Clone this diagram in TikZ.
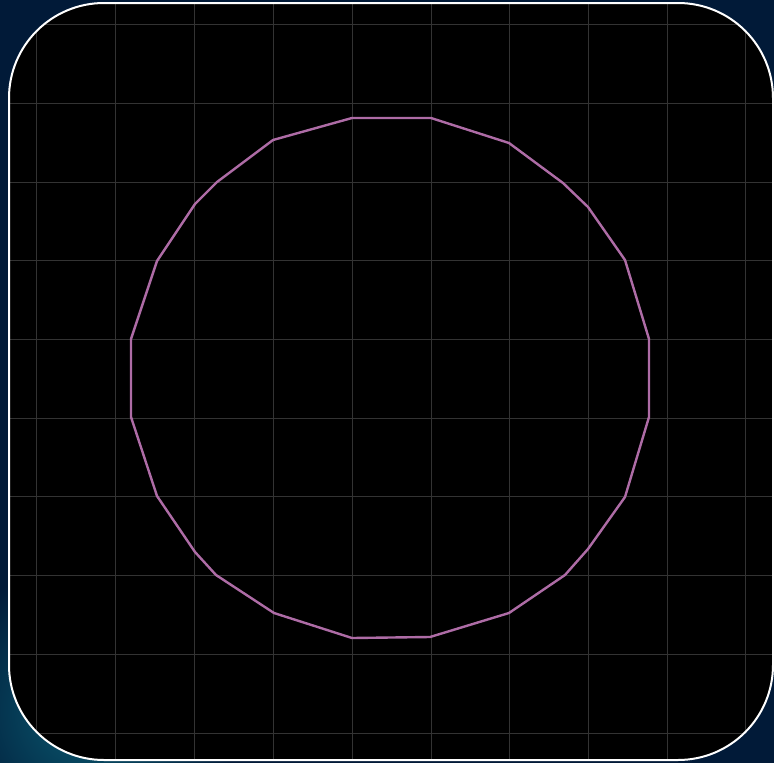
\documentclass[tikz,border=0pt]{standalone}
\usetikzlibrary{fadings}
\definecolor{navy}{HTML}{011A38}
\definecolor{tealc}{HTML}{0A5C72}
\definecolor{gridc}{HTML}{333333}
\definecolor{polyc}{HTML}{AE6CA6}
\begin{document}
\begin{tikzpicture}[x=1pt,y=-1pt,
  gridline/.style={draw=gridc,line width=0.9pt},
  frame/.style={draw=white,line width=2pt,rounded corners=95pt},
  poly/.style={draw=polyc,line width=2.4pt,line join=round}]
\useasboundingbox (0,0) rectangle (774,763);
\fill[navy] (0,0) rectangle (774,763);
\shade[inner color=tealc,outer color=navy] (-60,560) rectangle (240,860);
\fill[black,rounded corners=95pt] (9,3) rectangle (773,760);
\begin{scope}
  \clip[rounded corners=95pt] (9,3) rectangle (773,760);
  \foreach \x in {36,115,194,273,352,431,509,588,667,745}
    \draw[gridline] (\x,0) -- (\x,763);
  \foreach \y in {24,103,182,260,339,418,496,575,654,733}
    \draw[gridline] (0,\y) -- (774,\y);
\end{scope}
\draw[frame] (9,3) rectangle (773,760);
\draw[poly] (352,118) -- (431,118) -- (509,143) -- (563,183) -- (588,207)
  -- (625,260) -- (649,339) -- (649,417) -- (625,497) -- (588,549)
  -- (565,575) -- (509,613) -- (430,637) -- (352,638) -- (274,613)
  -- (216,575) -- (195,552) -- (157,496) -- (131,417) -- (131,339)
  -- (157,261) -- (195,204) -- (217,182) -- (273,140) -- cycle;
\end{tikzpicture}
\end{document}
